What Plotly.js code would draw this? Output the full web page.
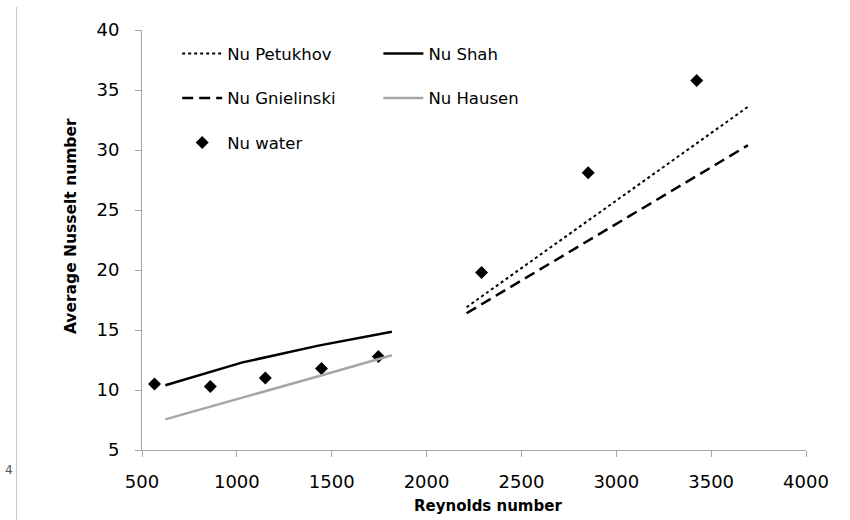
<!DOCTYPE html>
<html><head><meta charset="utf-8">
<script src="https://cdn.plot.ly/plotly-3.0.1.min.js"></script>
<style>html,body{margin:0;padding:0;background:#fff}#chart{width:850px;height:520px}</style>
</head><body><div id="chart"></div>
<script>
// Data
const reWater = [566, 860, 1150, 1446, 1746, 2290, 2852, 3424];
const nuWater = [10.5, 10.3, 11.0, 11.8, 12.8, 19.8, 28.1, 35.8];

const reLaminar = [623, 1030, 1430, 1817];
const nuShah    = [10.4, 12.3, 13.7, 14.85];
const nuHausen  = [7.55, 9.35, 11.15, 12.9];

const reTurb = [2211, 2850, 3420, 3694];
const nuPetukhov   = [16.9, 24.1, 30.5, 33.6];
const nuGnielinski = [16.4, 22.4, 27.8, 30.4];

const xTicks = [500, 1000, 1500, 2000, 2500, 3000, 3500, 4000];
const yTicks = [5, 10, 15, 20, 25, 30, 35, 40];

const xTitle = 'Reynolds number';
const yTitle = 'Average Nusselt number';

const F = '"DejaVu Sans", "Open Sans", sans-serif';

const traces = [
  {x: reTurb, y: nuPetukhov, name: 'Nu Petukhov', mode: 'lines',
   line: {color: '#000', width: 2, dash: 'dot'}, legend: 'legend', legendgroup: 'a'},
  {x: reTurb, y: nuGnielinski, name: 'Nu Gnielinski', mode: 'lines',
   line: {color: '#000', width: 2.5, dash: '11px,6px'}, legend: 'legend', legendgroup: 'b'},
  {x: reWater, y: nuWater, name: 'Nu water', mode: 'markers',
   marker: {symbol: 'diamond', size: 10, color: '#000'}, legend: 'legend', legendgroup: 'c'},
  {x: reLaminar, y: nuShah, name: 'Nu Shah', mode: 'lines',
   line: {color: '#000', width: 2.5}, legend: 'legend2', legendgroup: 'd'},
  {x: reLaminar, y: nuHausen, name: 'Nu Hausen', mode: 'lines',
   line: {color: '#a6a6a6', width: 2.5}, legend: 'legend2', legendgroup: 'e'}
];

const axisCommon = {
  showgrid: false, zeroline: false, showline: true, linecolor: '#a6a6a6', linewidth: 1,
  ticks: 'outside', ticklen: 6, tickcolor: '#a6a6a6', tickwidth: 1,
  tickfont: {family: F, size: 18, color: '#000'}
};

const legendCommon = {
  orientation: 'v', bgcolor: 'rgba(0,0,0,0)', borderwidth: 0,
  font: {family: F, size: 16.5, color: '#000'}, tracegroupgap: 20, itemwidth: 40,
  xanchor: 'left', yanchor: 'top'
};

const titleFont = {family: F, color: '#000', weight: 'bold'};

const layout = {
  width: 850, height: 520,
  margin: {l: 141.5, r: 44, t: 30, b: 70},
  paper_bgcolor: '#fff', plot_bgcolor: '#fff',
  xaxis: Object.assign({}, axisCommon, {
    range: [500, 4000], tickvals: xTicks, ticktext: xTicks.map(String), ticklabelstandoff: 9
  }),
  yaxis: Object.assign({}, axisCommon, {
    range: [5, 40], tickvals: yTicks, ticktext: yTicks.map(String), ticklabelstandoff: 12
  }),
  legend: Object.assign({}, legendCommon, {x: 0.053, y: 0.985}),
  legend2: Object.assign({}, legendCommon, {x: 0.356, y: 0.985}),
  shapes: [{type: 'line', xref: 'paper', yref: 'paper', x0: -0.189, x1: -0.189, y0: -0.1667, y1: 1.0548,
            line: {color: '#c8c8c8', width: 1}}],
  annotations: [
    {text: '4', xref: 'paper', yref: 'paper', x: -0.2, y: -0.048, xanchor: 'center', yanchor: 'middle',
     showarrow: false, font: {family: F, size: 12, color: '#555'}},
    {text: xTitle, xref: 'paper', yref: 'paper', x: 0.5214, y: -0.1333, xanchor: 'center', yanchor: 'middle',
     showarrow: false, font: Object.assign({size: 15}, titleFont)},
    {text: yTitle, xref: 'paper', yref: 'paper', x: -0.1076, y: 0.532, xanchor: 'center', yanchor: 'middle',
     textangle: -90, showarrow: false, font: Object.assign({size: 15.5}, titleFont)}
  ]
};

Plotly.newPlot('chart', traces, layout, {displayModeBar: false, staticPlot: true});
</script>
</body></html>
